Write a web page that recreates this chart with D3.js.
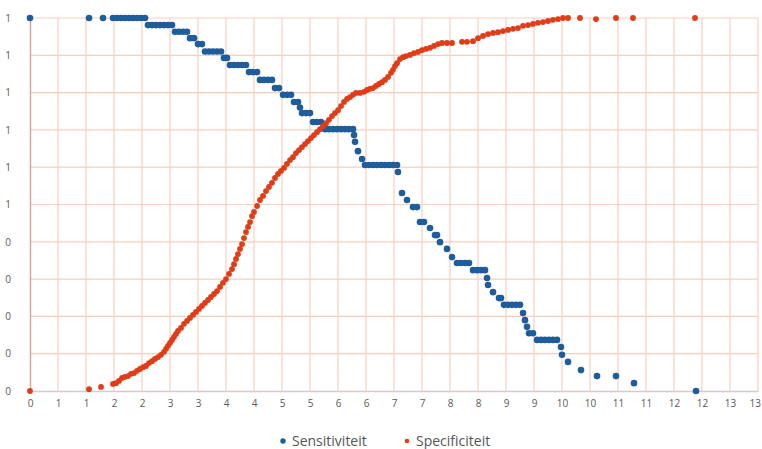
<!DOCTYPE html>
<html>
<head>
<meta charset="utf-8">
<script src="https://cdn.jsdelivr.net/npm/d3@7"></script>
<style>
  body { margin: 0; background: #fff; }
  svg { display: block; }
  text { font-family: "Open Sans", "Noto Sans", sans-serif; }
</style>
</head>
<body>
<div id="chart"></div>
<script>
// x ticks every 0.5, shown rounded like the original ("0" number format)
var xTicks = d3.range(0, 13.01, 0.5);
var yTicks = d3.range(0, 1.001, 0.1);

var seriesNames = ["Sensitiviteit", "Specificiteit"];
var seriesColors = ["#1f5c9c", "#e03c18"];

// sensitivity points [x, y]
var sensitiviteit = [
  [0, 1], [1.054, 1], [1.304, 1], [1.482, 1], [1.554, 1], [1.625, 1], [1.696, 1], [1.768, 1], [1.839, 1], [1.911, 1], [1.982, 1], [2.054, 1],
  [2.107, .981], [2.179, .981], [2.250, .981], [2.321, .981], [2.393, .981], [2.464, .981], [2.536, .981],
  [2.589, .963], [2.661, .963], [2.732, .963], [2.804, .963],
  [2.857, .946], [2.929, .946],
  [3.000, .930], [3.071, .930],
  [3.125, .910], [3.196, .910], [3.268, .910], [3.339, .910], [3.411, .910],
  [3.464, .893], [3.518, .893],
  [3.571, .874], [3.643, .874], [3.714, .874], [3.786, .874], [3.857, .874],
  [3.911, .855], [3.982, .855], [4.054, .855],
  [4.107, .834], [4.179, .834], [4.250, .834], [4.321, .834],
  [4.375, .812], [4.446, .812],
  [4.518, .794], [4.589, .794], [4.661, .794],
  [4.714, .775], [4.786, .775],
  [4.821, .760],
  [4.857, .745], [4.929, .745], [5.000, .745],
  [5.054, .721], [5.125, .721], [5.196, .721],
  [5.268, .702], [5.339, .702], [5.411, .702], [5.482, .702], [5.554, .702], [5.625, .702], [5.696, .702], [5.768, .702],
  [5.786, .686], [5.804, .668], [5.857, .643], [5.929, .622],
  [5.982, .606], [6.054, .606], [6.125, .606], [6.196, .606], [6.268, .606], [6.339, .606], [6.411, .606], [6.482, .606], [6.554, .606],
  [6.571, .587], [6.643, .531], [6.732, .512],
  [6.839, .493], [6.911, .493],
  [6.964, .453], [7.036, .453],
  [7.143, .437], [7.232, .418], [7.268, .418], [7.321, .399], [7.446, .381], [7.536, .359],
  [7.625, .343], [7.696, .343], [7.768, .343], [7.839, .343],
  [7.911, .324], [7.982, .324], [8.054, .324], [8.125, .324],
  [8.161, .303], [8.179, .284], [8.268, .265], [8.375, .249], [8.411, .249],
  [8.464, .231], [8.536, .231], [8.607, .231], [8.679, .231], [8.750, .231],
  [8.804, .209], [8.839, .190], [8.875, .172], [8.911, .155], [8.982, .155],
  [9.054, .137], [9.125, .137], [9.196, .137], [9.268, .137], [9.339, .137], [9.411, .137],
  [9.482, .118], [9.500, .097], [9.607, .078], [9.839, .056],
  [10.125, .040], [10.464, .040], [10.786, .021], [11.893, 0]
];

// specificity points [x, y]
var specificiteit = [
  [0, 0], [1.054, .005], [1.268, .011], [1.482, .019], [1.536, .021], [1.589, .027], [1.643, .035], [1.696, .038],
  [1.750, .040], [1.804, .046], [1.857, .048], [1.911, .054], [1.964, .059], [2.018, .064], [2.071, .067], [2.125, .075],
  [2.179, .080], [2.232, .086], [2.286, .091], [2.339, .097], [2.393, .105], [2.429, .113], [2.464, .121], [2.500, .129],
  [2.536, .137], [2.571, .145], [2.607, .153], [2.643, .161], [2.696, .169], [2.750, .180], [2.804, .188], [2.857, .196],
  [2.911, .204], [2.964, .212], [3.018, .220], [3.071, .228], [3.125, .236], [3.179, .244], [3.232, .252], [3.286, .260],
  [3.339, .268], [3.393, .279], [3.446, .290], [3.500, .300], [3.554, .314], [3.607, .327], [3.643, .340], [3.679, .354],
  [3.714, .367], [3.750, .381], [3.786, .394], [3.821, .410], [3.857, .426], [3.893, .440], [3.929, .453], [3.964, .469],
  [4.000, .480], [4.054, .496], [4.107, .512], [4.161, .523], [4.214, .536], [4.268, .547], [4.321, .558], [4.375, .571],
  [4.429, .582], [4.482, .590], [4.536, .598], [4.589, .609], [4.643, .619], [4.696, .627], [4.750, .638], [4.804, .646],
  [4.857, .654], [4.911, .662], [4.964, .670], [5.018, .678], [5.071, .686], [5.125, .694], [5.179, .702], [5.232, .710],
  [5.286, .718], [5.339, .727], [5.393, .737], [5.446, .745], [5.500, .753], [5.554, .764], [5.607, .775], [5.661, .783],
  [5.714, .788], [5.768, .794], [5.821, .799], [5.893, .799], [5.964, .802], [6.018, .807], [6.071, .810], [6.125, .812],
  [6.179, .818], [6.232, .823], [6.286, .828], [6.339, .834], [6.393, .842], [6.446, .853], [6.482, .861], [6.518, .871],
  [6.554, .879], [6.607, .890], [6.661, .895], [6.714, .898], [6.786, .901], [6.857, .906], [6.929, .909], [7.000, .914],
  [7.071, .917], [7.143, .920], [7.214, .925], [7.286, .930], [7.357, .933], [7.446, .933], [7.536, .933], [7.714, .936],
  [7.804, .936], [7.911, .938], [8.000, .946], [8.089, .952], [8.179, .957], [8.268, .960], [8.357, .962], [8.446, .965],
  [8.536, .968], [8.625, .971], [8.714, .973], [8.804, .979], [8.893, .981], [8.982, .984], [9.071, .987], [9.161, .989],
  [9.250, .992], [9.339, .995], [9.429, .997], [9.518, 1], [9.607, 1], [9.821, 1], [10.107, .997], [10.464, 1],
  [10.768, 1], [11.875, 1]
];

var width = 762, height = 449;
var margin = { top: 18, right: 4, bottom: 58, left: 30 };

var svg = d3.select("#chart").append("svg")
    .attr("width", width)
    .attr("height", height);

var x = d3.scaleLinear().domain([0, 13]).range([margin.left, width - margin.right]);
var y = d3.scaleLinear().domain([0, 1]).range([height - margin.bottom, margin.top]);

// gridlines
svg.append("g")
  .selectAll("line.v")
  .data(xTicks.filter(function (d) { return d > 0; }))
  .enter().append("line")
    .attr("x1", function (d) { return x(d); })
    .attr("x2", function (d) { return x(d); })
    .attr("y1", y(0))
    .attr("y2", y(1))
    .attr("stroke", "#f5cfbd")
    .attr("stroke-width", 1.2);

svg.append("g")
  .selectAll("line.h")
  .data(yTicks.filter(function (d) { return d > 0; }))
  .enter().append("line")
    .attr("x1", x(0))
    .attr("x2", x(13))
    .attr("y1", function (d) { return y(d); })
    .attr("y2", function (d) { return y(d); })
    .attr("stroke", "#f5cfbd")
    .attr("stroke-width", 1.2);

// axes
var fmt = function (d) { return String(Math.round(d + 1e-9)); };

var xAxis = svg.append("g")
    .attr("transform", "translate(0," + y(0) + ")")
    .call(d3.axisBottom(x).tickValues(xTicks).tickFormat(fmt).tickSize(0).tickPadding(9));
xAxis.select(".domain").attr("stroke", "#d5cbc8").attr("stroke-width", 1.5);
// keep the last label inside the frame
xAxis.selectAll(".tick text").filter(function (d) { return d === 13; })
    .attr("text-anchor", "end").attr("dx", "0.25em");

var yAxis = svg.append("g")
    .attr("transform", "translate(" + x(0) + ",0)")
    .call(d3.axisLeft(y).tickValues(yTicks).tickFormat(fmt).tickSize(0).tickPadding(19));
yAxis.select(".domain").attr("stroke", "#d6a99c").attr("stroke-width", 1.5);

svg.selectAll(".tick text")
    .attr("fill", "#595959")
    .style("font-size", "10px")
    .style("font-family", "'Open Sans', sans-serif");

// series
var series = [sensitiviteit, specificiteit];
series.forEach(function (pts, i) {
  svg.append("g")
    .selectAll("circle")
    .data(pts)
    .enter().append("circle")
      .attr("cx", function (d) { return x(d[0]); })
      .attr("cy", function (d) { return y(d[1]); })
      .attr("r", i === 0 ? 3.3 : 2.9)
      .attr("fill", seriesColors[i]);
});

// legend
var legend = svg.append("g").attr("transform", "translate(0,441)");
var lx = 283;
seriesNames.forEach(function (name, i) {
  var g = legend.append("g").attr("transform", "translate(" + lx + ",0)");
  g.append("circle").attr("r", i === 0 ? 2.7 : 2.3).attr("fill", seriesColors[i]);
  g.append("text")
      .attr("x", 9)
      .attr("dy", "0.35em")
      .attr("fill", "#555")
      .style("font-size", "14px")
      .text(name);
  lx += 124;
});
</script>
</body>
</html>
